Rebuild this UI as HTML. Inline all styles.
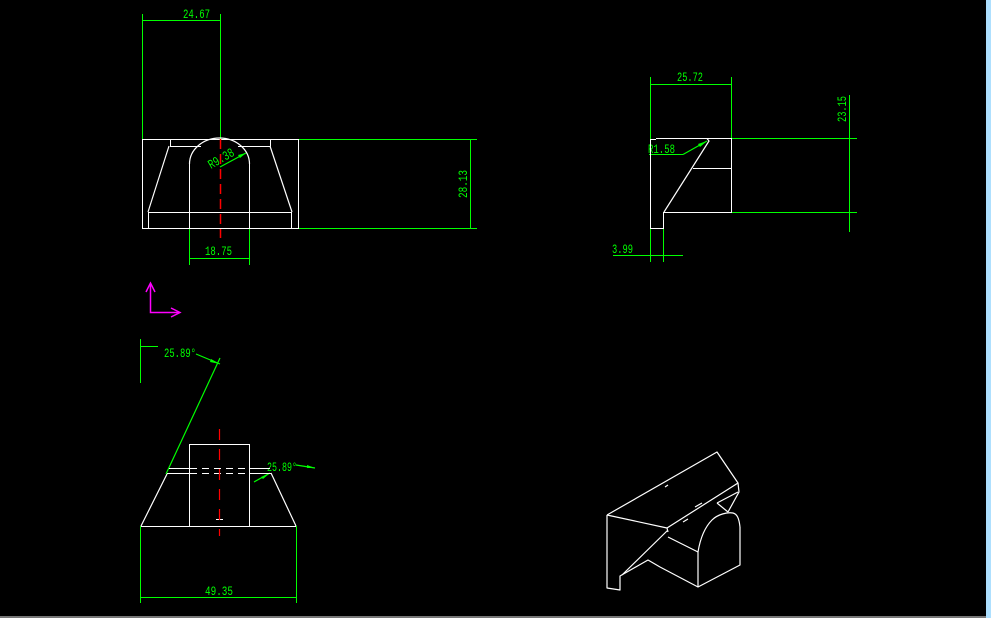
<!DOCTYPE html>
<html><head><meta charset="utf-8"><style>
html,body{margin:0;padding:0;background:#000;width:991px;height:618px;overflow:hidden}
svg{display:block}
text{font-family:"Liberation Sans Narrow","Liberation Mono",monospace;font-size:13px;fill:#0f0}
</style></head><body>
<svg width="991" height="618" viewBox="0 0 991 618" xmlns="http://www.w3.org/2000/svg">
<rect width="991" height="618" fill="#000"/>
<rect x="986" y="0" width="5" height="618" fill="#aee0ff"/>
<rect x="0" y="616" width="986" height="2" fill="#777"/>

<!-- FRONT VIEW -->
<g stroke="#0f0" stroke-width="1" fill="none" shape-rendering="crispEdges">
<path d="M142.5 14V139 M220.5 14V139 M142.5 20.5H220.5"/>
<path d="M298 139.5H477 M298 228.5H477 M470.5 139V228"/>
<path d="M189.5 228V265 M249.5 228V265 M189.5 258.5H249.5"/>
</g>
<path d="M220 167L246 153" stroke="#0f0" stroke-width="1.2"/>
<path d="M246 153l-8 2 2 3z" fill="#0f0"/>
<text x="183" y="18" textLength="27" lengthAdjust="spacingAndGlyphs">24.67</text>
<text x="205" y="255" textLength="27" lengthAdjust="spacingAndGlyphs">18.75</text>
<text transform="translate(467,198) rotate(-90)" textLength="28" lengthAdjust="spacingAndGlyphs">28.13</text>
<text transform="translate(211,169) rotate(-30)" textLength="28" lengthAdjust="spacingAndGlyphs">R9.38</text>
<g stroke="#fff" stroke-width="1" fill="none" shape-rendering="crispEdges">
<rect x="142.5" y="139.5" width="156" height="89"/>
<path d="M170.5 139.5V146.5 M270.5 139.5V146.5 M170 146.5H201 M238 146.5H270"/>
<path d="M148.5 212.5H292 M148.5 212V228 M291.5 212V228 M189.5 228V164 M249.5 228V164"/>
</g>
<g stroke="#fff" stroke-width="1.2" fill="none">
<path d="M169 146L148 212 M270 146L292 212"/>
<path d="M189.5 164 A30 26 0 0 1 249.5 164"/>
</g>
<path d="M220.5 139V238" stroke="#f00" stroke-width="1.5" stroke-dasharray="10,5"/>

<!-- AXIS -->
<g stroke="#f0f" stroke-width="1.5" fill="none">
<path d="M150.5 284V312.5H179"/>
<path d="M146 292L150.5 283L155 292 M171 308L180 312.5L171 317"/>
</g>

<!-- RIGHT VIEW -->
<g stroke="#0f0" stroke-width="1" fill="none" shape-rendering="crispEdges">
<path d="M650.5 77V140 M731.5 77V139 M650.5 84.5H731.5"/>
<path d="M731 138.5H857 M731 212.5H857 M849.5 95V232"/>
<path d="M650.5 228V262 M663.5 228V262 M613 255.5H683"/>
<path d="M649 154.5H683"/>
</g>
<path d="M683 154.5L707 141" stroke="#0f0" stroke-width="1.2"/>
<path d="M707 141l-9 3 2 3z" fill="#0f0"/>
<text x="677" y="81" textLength="26" lengthAdjust="spacingAndGlyphs">25.72</text>
<text transform="translate(846,122) rotate(-90)" textLength="26" lengthAdjust="spacingAndGlyphs">23.15</text>
<text x="648" y="153" textLength="27" lengthAdjust="spacingAndGlyphs">R1.58</text>
<text x="612" y="253" textLength="21" lengthAdjust="spacingAndGlyphs">3.99</text>
<g stroke="#fff" stroke-width="1" fill="none" shape-rendering="crispEdges">
<path d="M650.5 140V228.5H663.5V212.5H731.5V138.5H656 M650 139.5H656 M693 168.5H731"/>
</g>
<path d="M707 138.5L709 141L664 212" stroke="#fff" stroke-width="1.2" fill="none"/>

<!-- BOTTOM VIEW -->
<g stroke="#0f0" stroke-width="1" fill="none" shape-rendering="crispEdges">
<path d="M140.5 339V383 M140.5 346.5H158"/>
<path d="M140.5 526V603 M296.5 526V603 M140.5 597.5H296.5"/>
</g>
<g stroke="#0f0" stroke-width="1.2" fill="none">
<path d="M196 354L220 364 M220 358L166 474"/>
<path d="M296 465L315 468 M254 482L270 473"/>
</g>
<path d="M220 364l-9-5-1 3z M270 473l-9 4 2 2z M315 468l-8-3v3z" fill="#0f0"/>
<text x="164" y="357" textLength="32" lengthAdjust="spacingAndGlyphs">25.89°</text>
<text x="267" y="471" textLength="30" lengthAdjust="spacingAndGlyphs">25.89°</text>
<text x="205" y="595" textLength="28" lengthAdjust="spacingAndGlyphs">49.35</text>
<g stroke="#fff" stroke-width="1" fill="none" shape-rendering="crispEdges">
<path d="M141 526.5H296"/>
<path d="M169 468.5H190 M249 468.5H270 M167 473.5H190 M249 473.5H271"/>
<path d="M190 468.5H249 M190 473.5H249" stroke-dasharray="7,5"/>
<rect x="189.5" y="444.5" width="60" height="82"/>
<path d="M216 519.5H223"/>
</g>
<path d="M141 526L167 474 M296 526L271 473" stroke="#fff" stroke-width="1.2" fill="none"/>
<path d="M219.5 429V536" stroke="#f00" stroke-width="1.2" stroke-dasharray="11,9"/>

<!-- ISOMETRIC -->
<g stroke="#fff" stroke-width="1.2" fill="none" stroke-linejoin="round">
<path d="M607 515L717 452L738 483L739 492L728 512"/>
<path d="M607 515V588L620 590V576L648 560L660 567L698 587L740 565V527"/>
<path d="M698 587V552C700 540 704 528 712 520C718 514 728 512 733 513C737 514 739 518 740 527"/>
<path d="M607 515L667 528L668 532 M668 530L622 575 M667 528L738 483"/>
<path d="M668 537L698 552 M717 503L738 492 M717 503L728 512"/>
<path d="M665 487L668 485 M695 507L702 503 M683 522L688 519"/>
</g>
</svg>
</body></html>
